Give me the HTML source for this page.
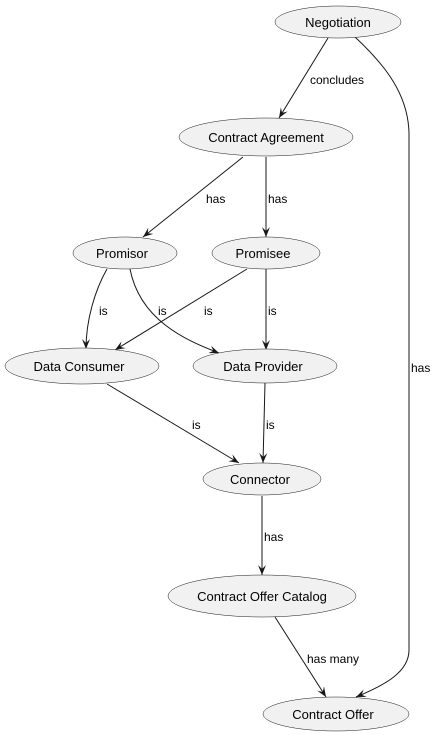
<!DOCTYPE html>
<html><head><meta charset="utf-8"><style>
html,body{margin:0;padding:0;background:#fff;}
svg{display:block;}
text{font-family:"Liberation Sans",sans-serif;fill:#000;}
</style></head><body>
<svg width="438" height="735" viewBox="0 0 438 735" xmlns="http://www.w3.org/2000/svg">
<defs>
<marker id="a" markerWidth="12" markerHeight="10" refX="10" refY="5" orient="auto" markerUnits="userSpaceOnUse">
<path d="M0,1 L10,5 L0,9 L4,5 Z" fill="#181818"/>
</marker>
</defs>
<g fill="none" stroke="#181818" stroke-width="1" marker-end="url(#a)">
<path d="M328,38 L279,118"/>
<path d="M355,37 C385,65 409,95 409,135 L409,650 C409,672 385,685 356,697"/>
<path d="M243,157 L143,237"/>
<path d="M266,157 L266,237"/>
<path d="M107,269 C95,290 86,320 86,349"/>
<path d="M130,269 C140,320 185,340 219,353"/>
<path d="M247,269 L115,350"/>
<path d="M266,269 L266,350"/>
<path d="M107,384 L239,463"/>
<path d="M265,383 L263,463"/>
<path d="M262,496 L262,575"/>
<path d="M275,617 L326,697"/>
</g>
<g fill="#f1f1f1" stroke="#181818" stroke-width="0.5">
<ellipse cx="338" cy="22" rx="63" ry="16"/>
<ellipse cx="266" cy="137" rx="87" ry="19"/>
<ellipse cx="125" cy="253" rx="52" ry="16"/>
<ellipse cx="266" cy="253" rx="54" ry="16"/>
<ellipse cx="82" cy="366" rx="77" ry="18"/>
<ellipse cx="265" cy="366" rx="72" ry="17"/>
<ellipse cx="262" cy="479" rx="59" ry="16"/>
<ellipse cx="262" cy="596" rx="94" ry="21"/>
<ellipse cx="336" cy="714" rx="73" ry="17"/>
</g>
<g font-size="13" text-anchor="middle">
<text x="338" y="27">Negotiation</text>
<text x="266" y="142">Contract Agreement</text>
<text x="122" y="258">Promisor</text>
<text x="263" y="258">Promisee</text>
<text x="79" y="371">Data Consumer</text>
<text x="263" y="371">Data Provider</text>
<text x="260" y="484">Connector</text>
<text x="262" y="601">Contract Offer Catalog</text>
<text x="333" y="719">Contract Offer</text>
</g>
<g font-size="12">
<text x="310" y="84">concludes</text>
<text x="206" y="203">has</text>
<text x="268" y="203">has</text>
<text x="99" y="315">is</text>
<text x="158" y="315">is</text>
<text x="204" y="315">is</text>
<text x="268" y="315">is</text>
<text x="192" y="429">is</text>
<text x="266" y="429">is</text>
<text x="411" y="372">has</text>
<text x="264" y="541">has</text>
<text x="307" y="663">has many</text>
</g>
</svg>
</body></html>
